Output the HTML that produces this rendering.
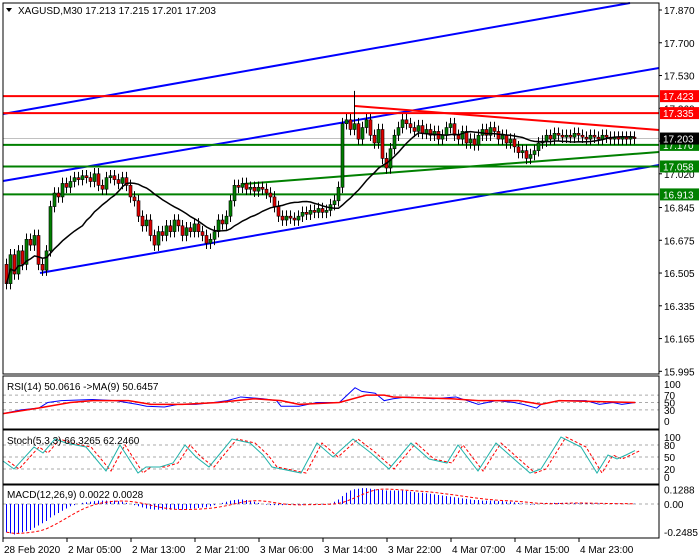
<!DOCTYPE html>
<html><head><meta charset="utf-8"><style>
html,body{margin:0;padding:0;background:#fff;width:700px;height:560px;overflow:hidden}
svg text{font-family:"Liberation Sans",sans-serif;font-size:10px}
</style></head><body>
<svg id="c" width="700" height="560" viewBox="0 0 700 560">
<rect x="0" y="0" width="700" height="560" fill="#fff"/>
<g id="main"></g>
<g id="rsi"></g>
<g id="sto"></g>
<g id="macd"></g>
<g id="axes"></g>
</svg>
<script>
const closes=[16.45,16.60,16.50,16.62,16.55,16.68,16.65,16.70,
16.55,16.52,16.62,16.85,16.92,16.90,16.97,16.95,
16.98,17.00,16.99,17.01,17.00,16.98,17.02,16.96,
16.94,17.00,17.01,16.99,16.97,17.00,16.96,16.90,
16.88,16.80,16.75,16.78,16.70,16.65,16.72,16.70,
16.75,16.72,16.78,16.75,16.70,16.74,16.72,16.76,
16.72,16.70,16.66,16.68,16.72,16.78,16.76,16.80,
16.88,16.96,16.95,16.97,16.94,16.95,16.93,16.95,
16.94,16.92,16.90,16.85,16.80,16.78,16.80,16.79,
16.78,16.80,16.82,16.81,16.83,16.82,16.84,16.82,
16.83,16.86,16.88,16.95,17.28,17.30,17.25,17.28,
17.20,17.26,17.30,17.22,17.18,17.25,17.10,17.05,
17.15,17.22,17.26,17.30,17.28,17.26,17.24,17.27,
17.23,17.25,17.22,17.24,17.20,17.22,17.26,17.28,
17.22,17.20,17.24,17.18,17.20,17.17,17.22,17.25,
17.22,17.26,17.24,17.20,17.22,17.18,17.20,17.16,
17.13,17.14,17.10,17.12,17.14,17.18,17.19,17.22,
17.20,17.23,17.22,17.21,17.22,17.21,17.23,17.22,
17.21,17.20,17.22,17.21,17.20,17.22,17.21,17.20,
17.21,17.20,17.21,17.20,17.21,17.203];
const firstOpen=16.55;
const priceTicks=["17.870","17.700","17.530","17.360","17.190","17.020","16.845","16.675","16.505","16.335","16.165","15.995"];
const hLevels=[17.423,17.335,17.170,17.058,16.913];
const hColors=["#ff0000","#ff0000","#008000","#008000","#008000"];
const lastPrice=17.203;
const rsiX=[0,40,80,100,130,200,250,300,320,360,390,430,470,500,530,580,610,620,660,700,750,785,800,830,850,870,900,960,1010,1060,1100,1140,1160,1190,1200,1240,1300,1330,1360,1380,1410];
const rsiV=[20,30,35,50,55,58,55,45,40,38,45,45,50,55,65,60,55,40,40,50,50,90,80,75,55,60,65,60,65,45,55,50,45,35,45,55,55,45,50,45,50];
const rsiMaX=[0,80,150,200,280,330,400,480,560,620,660,750,810,850,870,1000,1060,1150,1200,1240,1410];
const rsiMaV=[20,35,50,55,55,45,45,50,60,55,45,50,70,70,65,60,55,55,45,55,50];
const stoX=[0,11,31,40,52,63,83,103,117,135,143,157,170,182,193,206,229,247,260,269,298,314,330,350,368,386,408,426,444,455,475,493,511,527,538,558,578,594,605,614,623,632];
const stoK=[40,20,75,60,95,85,75,15,80,10,25,25,35,80,50,25,95,85,55,25,10,85,50,95,60,20,85,45,35,80,15,85,45,10,20,100,75,10,55,45,55,66];
const macdH=[-0.25,-0.26,-0.27,-0.26,-0.25,-0.24,-0.23,-0.21,
-0.19,-0.17,-0.15,-0.12,-0.10,-0.08,-0.06,-0.04,
-0.02,-0.01,0.00,0.01,0.015,0.02,0.025,0.03,
0.03,0.03,0.028,0.03,0.025,0.02,0.01,0.00,
-0.01,-0.02,-0.03,-0.04,-0.045,-0.05,-0.05,-0.05,
-0.05,-0.05,-0.05,-0.048,-0.05,-0.045,-0.04,-0.04,
-0.035,-0.03,-0.03,-0.02,-0.01,0.00,0.01,0.02,
0.03,0.035,0.04,0.04,0.035,0.03,0.02,0.01,
0.00,-0.005,-0.01,-0.01,-0.01,-0.01,-0.005,-0.005,
-0.005,-0.005,-0.005,0.0,-0.005,-0.005,0.0,-0.003,
0.0,0.005,0.02,0.04,0.07,0.10,0.12,0.13,
0.135,0.14,0.14,0.135,0.13,0.13,0.125,0.12,
0.12,0.12,0.12,0.12,0.115,0.11,0.105,0.10,
0.10,0.095,0.09,0.085,0.08,0.075,0.07,0.065,
0.06,0.055,0.05,0.045,0.04,0.035,0.035,0.03,
0.03,0.03,0.03,0.025,0.025,0.02,0.02,0.015,
0.01,0.005,0.0,-0.005,-0.005,0.0,0.005,0.01,
0.01,0.01,0.01,0.01,0.01,0.008,0.008,0.006,
0.005,0.005,0.005,0.004,0.004,0.003,0.003,0.003,
0.003,0.002,0.002,0.002,0.002,0.002];
const timeLabels=["28 Feb 2020","2 Mar 05:00","2 Mar 13:00","2 Mar 21:00","3 Mar 06:00","3 Mar 14:00","3 Mar 22:00","4 Mar 07:00","4 Mar 15:00","4 Mar 23:00"];

const NS="http://www.w3.org/2000/svg";
function mk(parent,tag,attrs,name){const e=document.createElementNS(NS,tag);for(const k in attrs)e.setAttribute(k,attrs[k]);


document.getElementById(parent).appendChild(e);return e;}
const bx=i=>5+4*i;
const py=p=>10+(17.870-p)*192.7;
const ry=v=>421-v*0.37;
const sy=v=>477-v*0.4;
const my=v=>504-v*113;
const zx=z=>z/2.23;

[[3,3,656,371],[3,376,656,53],[3,430,656,54],[3,485,656,53]].forEach((r,k)=>{
 mk('axes','rect',{x:r[0],y:r[1],width:r[2],height:r[3],fill:'none',stroke:'#000','stroke-width':1},'panel-frame');});

priceTicks.forEach(t=>{const y=py(parseFloat(t));
 mk('axes','line',{x1:659,y1:y,x2:662,y2:y,stroke:'#000'},'price-tick');
 const tx=mk('axes','text',{x:664,y:y+4,fill:'#000'},'price-tick-label');tx.textContent=t;});

const M='main';
mk(M,'line',{x1:3,y1:py(lastPrice),x2:659,y2:py(lastPrice),stroke:'#c0c0c0'},'current-price-line');
mk(M,'line',{x1:3,y1:114,x2:630,y2:3,stroke:'#0000ff','stroke-width':2},'channel-top-line');
mk(M,'line',{x1:3,y1:181,x2:659,y2:68,stroke:'#0000ff','stroke-width':2},'channel-mid-line');
mk(M,'line',{x1:40,y1:273,x2:659,y2:165,stroke:'#0000ff','stroke-width':2},'channel-bottom-line');
mk(M,'line',{x1:355,y1:106,x2:659,y2:130,stroke:'#ff0000','stroke-width':2},'red-trend-line');
mk(M,'line',{x1:243,y1:184,x2:659,y2:152,stroke:'#008000','stroke-width':2},'green-trend-line');
hLevels.forEach((l,k)=>{mk(M,'line',{x1:3,y1:py(l),x2:659,y2:py(l),stroke:hColors[k],'stroke-width':2},'level-line');});

closes.forEach((c,i)=>{const o=i?closes[i-1]:firstOpen;const x=bx(i);
 const hi=Math.max(o,c)+(i==87?0.17:0.03),lo=Math.min(o,c)-0.03;
 mk(M,'line',{x1:x+1.5,y1:py(hi),x2:x+1.5,y2:py(lo),stroke:'#000'},'candle-wick');
 const t=py(Math.max(o,c)),b=py(Math.min(o,c));
 mk(M,'rect',{x:x,y:t,width:3,height:Math.max(1,b-t),fill:c>=o?'#008000':'#e00000',stroke:'#000','stroke-width':0.6},'candle');});
let pts=[];closes.forEach((c,i)=>{const s=closes.slice(Math.max(0,i-19),i+1);const a=s.reduce((p,q)=>p+q,0)/s.length;pts.push(bx(i)+1.5+','+py(a));});
mk(M,'polyline',{points:pts.join(' '),fill:'none',stroke:'#000','stroke-width':1.5},'moving-average-line');

hLevels.concat([lastPrice]).forEach((l,k)=>{const col=k<5?hColors[k]:'#000';const y=py(l);
 mk('axes','rect',{x:660,y:y-6,width:39,height:12,fill:col},'price-label-box');
 const tx=mk('axes','text',{x:663,y:y+4,fill:'#fff'},'price-label-text');tx.textContent=l.toFixed(3);});

const title=mk('axes','text',{x:18,y:14,fill:'#000'},'chart-title');title.textContent='XAGUSD,M30  17.213 17.215 17.201 17.203';
mk('axes','path',{d:'M6 8 L12 8 L9 12 Z',fill:'#000'},'title-arrow');

[70,50,30].forEach(v=>mk('rsi','line',{x1:3,y1:ry(v),x2:659,y2:ry(v),stroke:'#aaa','stroke-dasharray':'3,3'},'rsi-level'));
mk('rsi','polyline',{points:rsiX.map((z,k)=>(3+zx(z))+','+ry(rsiV[k])).join(' '),fill:'none',stroke:'#0000ff'},'rsi-line');
mk('rsi','polyline',{points:rsiMaX.map((z,k)=>(3+zx(z))+','+ry(rsiMaV[k])).join(' '),fill:'none',stroke:'#ff0000','stroke-width':1.5},'rsi-ma-line');
let t1=mk('rsi','text',{x:7,y:390},'rsi-title');t1.textContent='RSI(14) 50.0616  ->MA(9) 50.6457';
[100,70,50,30,0].forEach(v=>{let t=mk('axes','text',{x:664,y:ry(v)+4},'rsi-tick-label');t.textContent=v;});

[80,50,20].forEach(v=>mk('sto','line',{x1:3,y1:sy(v),x2:659,y2:sy(v),stroke:'#aaa','stroke-dasharray':'3,3'},'stoch-level'));
mk('sto','polyline',{points:stoX.map((x,k)=>(x+8)+','+sy(stoK[k])).join(' '),fill:'none',stroke:'#ff0000','stroke-dasharray':'3,2'},'stoch-signal-line');
mk('sto','polyline',{points:stoX.map((x,k)=>(x+3)+','+sy(stoK[k])).join(' '),fill:'none',stroke:'#20b2aa'},'stoch-main-line');
let t2=mk('sto','text',{x:7,y:444},'stoch-title');t2.textContent='Stoch(5,3,3) 66.3265 62.2460';
[100,80,50,20,0].forEach(v=>{let t=mk('axes','text',{x:664,y:sy(v)+4},'stoch-tick-label');t.textContent=v;});

mk('macd','line',{x1:3,y1:my(0),x2:659,y2:my(0),stroke:'#aaa','stroke-dasharray':'3,3'},'macd-zero');
macdH.forEach((v,i)=>{mk('macd','line',{x1:bx(i)+1.5,y1:my(0),x2:bx(i)+1.5,y2:my(v),stroke:'#0000ff'},'macd-bar');});
let sp=[];macdH.forEach((v,i)=>{const s=macdH.slice(Math.max(0,i-8),i+1);sp.push((bx(i)+1.5)+','+my(s.reduce((a,b)=>a+b,0)/s.length));});
mk('macd','polyline',{points:sp.join(' '),fill:'none',stroke:'#ff0000','stroke-dasharray':'3,2'},'macd-signal-line');
let t3=mk('macd','text',{x:7,y:498},'macd-title');t3.textContent='MACD(12,26,9) 0.0022 0.0028';
[["0.1288",0.1288],["0.00",0],["-0.2485",-0.2485]].forEach(a=>{let t=mk('axes','text',{x:664,y:my(a[1])+4},'macd-tick-label');t.textContent=a[0];});

timeLabels.forEach((l,k)=>{const x=3+64*k;
 mk('axes','line',{x1:x,y1:538,x2:x,y2:542,stroke:'#000'},'time-tick');
 let t=mk('axes','text',{x:x+1,y:553},'time-label');t.textContent=l;});
</script>
</body></html>
